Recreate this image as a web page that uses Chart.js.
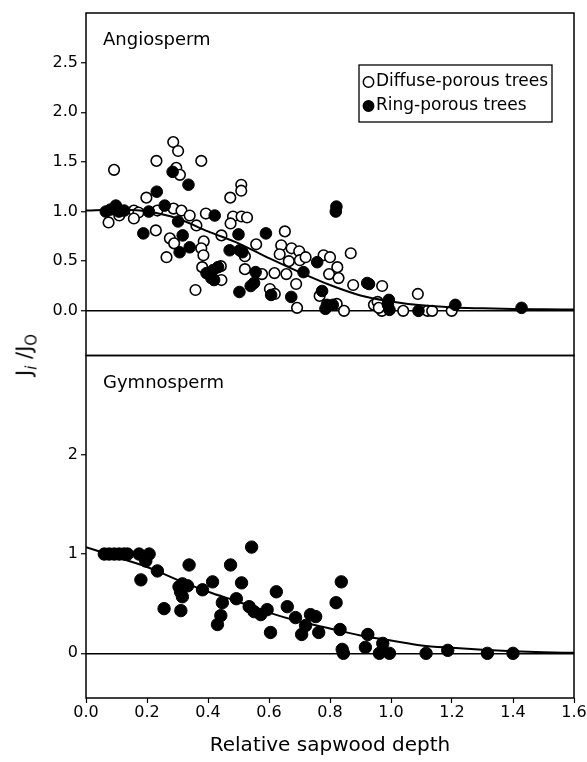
<!DOCTYPE html>
<html>
<head>
<meta charset="utf-8">
<script src="https://cdn.jsdelivr.net/npm/chart.js@4.4.1/dist/chart.umd.min.js"></script>
<style>
html,body{margin:0;padding:0;background:#fff;}
#wrap{position:relative;width:587px;height:762px;overflow:hidden;background:#fff;}
#c{position:absolute;left:0;top:0;width:587px;height:762px;}
#ytitle{position:absolute;left:27px;top:355px;transform:translate(-50%,-50%) rotate(-90deg);font-family:'DejaVu Sans',sans-serif;font-size:21px;white-space:nowrap;color:#000;line-height:1;}
#ytitle sub{font-size:15px;vertical-align:-5px;}
</style>
</head>
<body>
<div id="wrap">
<canvas id="c" width="587" height="762"></canvas>
<div id="ytitle">J<sub><i>i</i></sub> /J<sub>O</sub></div>
</div>
<script>
// ---- tick labels ----
const xTicks = [0, 0.2, 0.4, 0.6, 0.8, 1.0, 1.2, 1.4, 1.6];
const angioYTicks = [0, 0.5, 1.0, 1.5, 2.0, 2.5];
const gymnoYTicks = [0, 1, 2];

// ---- fitted curves ----
const curveX = [0, 0.1, 0.2, 0.3, 0.4, 0.5, 0.6, 0.7, 0.8, 0.9, 1.0, 1.1, 1.2, 1.3, 1.4, 1.5, 1.6];
const angioCurve = [1.01, 1.02, 1.00, 0.93, 0.80, 0.68, 0.53, 0.39, 0.26, 0.155, 0.095, 0.055, 0.034, 0.025, 0.018, 0.015, 0.013];
const gymnoCurve = [1.07, 0.97, 0.87, 0.74, 0.62, 0.52, 0.41, 0.32, 0.25, 0.18, 0.13, 0.08, 0.055, 0.035, 0.02, 0.01, 0.005];

// ---- Angiosperm: diffuse-porous (open) ----
const diffusePoints = [
[0.092,1.42],[0.074,0.89],[0.109,0.96],[0.157,1.01],[0.172,0.99],[0.157,0.93],[0.198,1.14],[0.231,1.51],
[0.229,0.81],[0.234,1.01],[0.264,0.54],[0.275,0.73],[0.289,0.68],[0.286,1.70],[0.302,1.61],[0.296,1.44],
[0.308,1.37],[0.287,1.03],[0.313,1.01],[0.340,0.96],[0.362,0.86],[0.378,1.51],[0.393,0.98],[0.386,0.70],
[0.378,0.63],[0.385,0.56],[0.381,0.44],[0.359,0.21],[0.444,0.31],[0.442,0.45],[0.444,0.76],[0.473,1.14],
[0.509,1.27],[0.509,1.21],[0.482,0.95],[0.510,0.95],[0.528,0.94],[0.474,0.88],[0.521,0.55],[0.521,0.42],
[0.558,0.67],[0.577,0.37],[0.618,0.38],[0.603,0.22],[0.619,0.17],[0.652,0.80],[0.640,0.66],[0.635,0.57],
[0.674,0.63],[0.699,0.60],[0.665,0.50],[0.701,0.51],[0.657,0.37],[0.689,0.27],[0.692,0.03],[0.720,0.54],
[0.779,0.56],[0.800,0.54],[0.868,0.58],[0.824,0.44],[0.797,0.37],[0.828,0.33],[0.876,0.26],[0.971,0.25],
[1.088,0.17],[0.766,0.15],[0.822,0.07],[0.846,0.00],[0.944,0.06],[0.956,0.09],[0.970,0.00],[0.960,0.03],
[1.040,0.00],[1.120,0.00],[1.135,0.00],[1.199,0.00]
];

// ---- Angiosperm: ring-porous (filled) ----
const ringPoints = [
[0.065,1.00],[0.080,1.02],[0.098,1.06],[0.108,1.00],[0.125,1.01],[0.188,0.78],[0.206,1.00],[0.232,1.20],
[0.258,1.06],[0.284,1.40],[0.336,1.27],[0.302,0.90],[0.317,0.76],[0.340,0.64],[0.307,0.59],[0.422,0.96],
[0.395,0.38],[0.417,0.41],[0.433,0.44],[0.411,0.33],[0.420,0.31],[0.471,0.61],[0.504,0.61],[0.513,0.59],
[0.500,0.77],[0.503,0.19],[0.556,0.39],[0.551,0.28],[0.540,0.25],[0.590,0.78],[0.607,0.16],[0.673,0.14],
[0.713,0.39],[0.758,0.49],[0.821,1.05],[0.819,1.00],[0.774,0.20],[0.790,0.06],[0.785,0.02],[0.809,0.06],
[0.922,0.28],[0.928,0.27],[0.993,0.11],[0.990,0.06],[0.995,0.01],[1.090,0.00],[1.211,0.06],[1.428,0.03]
];

// ---- Gymnosperm (filled) ----
const gymnoPoints = [
[0.060,1.00],[0.076,1.00],[0.093,1.00],[0.109,1.00],[0.125,1.00],[0.136,1.00],[0.174,1.00],[0.207,1.00],
[0.196,0.93],[0.180,0.74],[0.234,0.83],[0.338,0.89],[0.305,0.67],[0.316,0.70],[0.333,0.68],[0.316,0.57],
[0.310,0.62],[0.256,0.45],[0.311,0.43],[0.382,0.64],[0.415,0.72],[0.474,0.89],[0.543,1.07],[0.510,0.71],
[0.493,0.55],[0.447,0.51],[0.442,0.38],[0.431,0.29],[0.535,0.47],[0.551,0.42],[0.573,0.39],[0.594,0.44],
[0.624,0.62],[0.605,0.21],[0.660,0.47],[0.687,0.36],[0.707,0.19],[0.736,0.39],[0.753,0.37],[0.720,0.28],
[0.763,0.21],[0.837,0.72],[0.820,0.51],[0.833,0.24],[0.924,0.19],[0.916,0.06],[0.973,0.10],[0.962,0.00],
[0.995,0.00],[0.840,0.04],[0.844,0.00],[1.115,0.00],[1.186,0.03],[1.316,0.00],[1.400,0.00]
];

const FONT = "'DejaVu Sans', sans-serif";
const toXY = arr => arr.map(p => ({x: p[0], y: p[1]}));
const curveXY = ys => curveX.map((x, i) => ({x: x, y: ys[i]}));

const panelPlugin = {
  id: 'panel',
  afterDraw(chart, args, opts) {
    const ctx = chart.ctx, a = chart.chartArea;
    ctx.save();
    ctx.strokeStyle = '#000';
    ctx.lineWidth = 1.5;
    ['yA', 'yG'].forEach(id => {
      const s = chart.scales[id];
      ctx.strokeRect(a.left, s.top, a.right - a.left, s.bottom - s.top);
    });
    ctx.fillStyle = '#000';
    ctx.font = '18px ' + FONT;
    ctx.textBaseline = 'middle';
    ctx.textAlign = 'left';
    opts.titles.forEach(t => ctx.fillText(t.text, t.x, t.y));
    const L = opts.legend;
    ctx.fillStyle = '#fff';
    ctx.fillRect(L.x, L.y, L.w, L.h);
    ctx.lineWidth = 1.3;
    ctx.strokeRect(L.x, L.y, L.w, L.h);
    ctx.font = '17px ' + FONT;
    L.items.forEach((it, i) => {
      const ds = chart.data.datasets[it];
      const cy = L.y + L.row0 + i * L.rowGap;
      ctx.beginPath();
      ctx.arc(L.x + 9.5, cy, 5.2, 0, Math.PI * 2);
      ctx.fillStyle = ds.backgroundColor;
      ctx.fill();
      ctx.lineWidth = 1.5;
      ctx.strokeStyle = '#000';
      ctx.stroke();
      ctx.fillStyle = '#000';
      ctx.fillText(ds.label, L.x + 17, cy);
    });
    ctx.restore();
  }
};

function yScale(ticks, fmt) {
  return {
    type: 'linear', position: 'left', stack: 'panels', stackWeight: 1, offset: false,
    min: -0.45, max: 3.0,
    afterFit(s) { s.width = 86; s.paddingTop = 0; s.paddingBottom = 0; },
    afterBuildTicks(s) { s.ticks = ticks.map(v => ({value: v})); },
    ticks: { callback: v => fmt(v), font: {family: FONT, size: 16}, color: '#000', padding: 3 },
    grid: {
      color: c => (c.tick && c.tick.value === 0) ? '#000' : 'rgba(0,0,0,0)',
      lineWidth: 1.5, tickColor: '#000', tickLength: 5, tickWidth: 1.2, drawTicks: true
    },
    border: { display: false }
  };
}

new Chart(document.getElementById('c'), {
  type: 'scatter',
  data: { datasets: [
    { label: 'Fit (angiosperm)', type: 'line', data: curveXY(angioCurve), yAxisID: 'yA', borderColor: '#000',
      borderWidth: 2, pointRadius: 0, cubicInterpolationMode: 'monotone', fill: false, order: 0 },
    { label: 'Diffuse-porous trees', data: toXY(diffusePoints), yAxisID: 'yA', pointRadius: 5.3, borderWidth: 1.6,
      backgroundColor: '#fff', borderColor: '#000', order: 2 },
    { label: 'Ring-porous trees', data: toXY(ringPoints), yAxisID: 'yA', pointRadius: 5.8, borderWidth: 1,
      backgroundColor: '#000', borderColor: '#000', order: 1 },
    { label: 'Fit (gymnosperm)', type: 'line', data: curveXY(gymnoCurve), yAxisID: 'yG', borderColor: '#000',
      borderWidth: 2, pointRadius: 0, cubicInterpolationMode: 'monotone', fill: false, order: 0 },
    { label: 'Gymnosperm', data: toXY(gymnoPoints), yAxisID: 'yG', pointRadius: 6.2, borderWidth: 1,
      backgroundColor: '#000', borderColor: '#000', order: 1 }
  ]},
  options: {
    responsive: false, animation: false, events: [],
    layout: { padding: { left: 0, right: 13, top: 13, bottom: 0 } },
    plugins: {
      legend: { display: false }, tooltip: { enabled: false },
      panel: {
        titles: [{text: 'Angiosperm', x: 103, y: 40}, {text: 'Gymnosperm', x: 103, y: 383}],
        legend: { x: 359, y: 65, w: 193, h: 57, row0: 17, rowGap: 24, items: [1, 2] }
      }
    },
    scales: {
      yG: yScale(gymnoYTicks, v => String(v)),
      yA: yScale(angioYTicks, v => v.toFixed(1)),
      x: {
        type: 'linear', position: 'bottom', min: 0, max: 1.6,
        afterFit(s) { s.height = 64; s.paddingLeft = 0; s.paddingRight = 0; },
        afterBuildTicks(s) { s.ticks = xTicks.map(v => ({value: v})); },
        ticks: { callback: v => v.toFixed(1), font: {family: FONT, size: 16}, color: '#000', padding: 0,
                 maxRotation: 0, autoSkip: false },
        grid: { color: 'rgba(0,0,0,0)', tickColor: '#000', tickLength: 5, tickWidth: 1.2, drawTicks: true },
        border: { display: false },
        title: { display: true, text: 'Relative sapwood depth', color: '#000',
                 font: {family: FONT, size: 20}, padding: {top: 0, bottom: 4} }
      }
    }
  },
  plugins: [panelPlugin]
});
</script>
</body>
</html>
